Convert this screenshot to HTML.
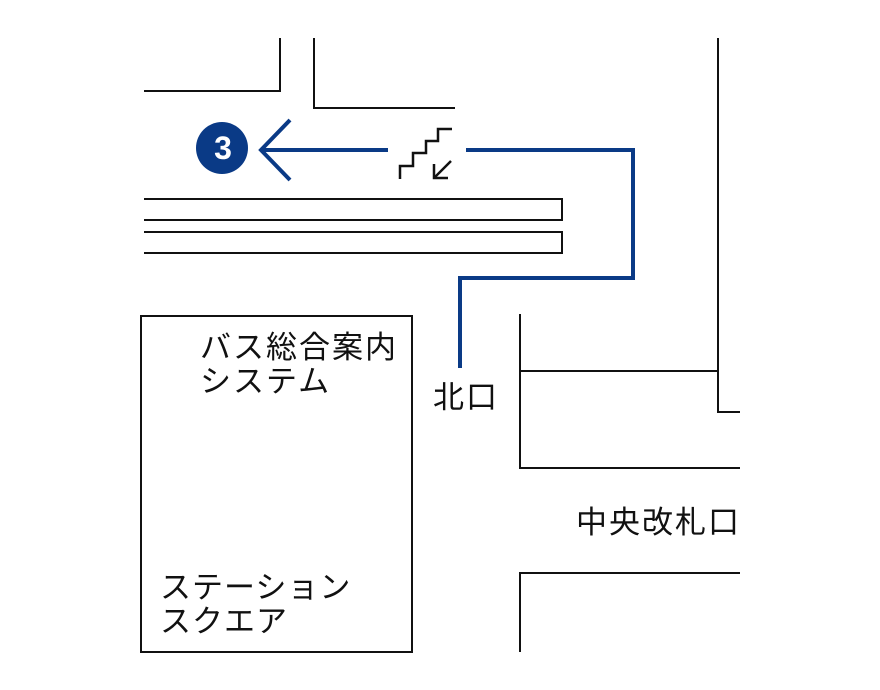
<!DOCTYPE html>
<html><head><meta charset="utf-8"><style>
html,body{margin:0;padding:0;background:#fff;}
svg{display:block;}
text{font-family:"Liberation Sans","Noto Sans CJK JP",sans-serif;fill:#111;}
</style></head><body>
<svg width="880" height="690" viewBox="0 0 880 690" xmlns="http://www.w3.org/2000/svg">
<g fill="none" stroke="#111" stroke-width="2">
<polyline points="280,38 280,91 144,91"/>
<polyline points="314,38 314,108 455,108"/>
<polyline points="144,199 562,199 562,220 144,220"/>
<polyline points="144,232 562,232 562,253 144,253"/>
<rect x="141" y="316" width="271" height="336"/>
<polyline points="718,38 718,412 740,412"/>
<polyline points="520,314 520,468 740,468"/>
<line x1="520" y1="371" x2="718" y2="371"/>
<polyline points="520,652 520,573 740,573"/>
<polyline stroke-width="2.5" points="400,179 400,166 413,166 413,153 426,153 426,141 438,141 438,129 452,129"/>
<line stroke-width="2.5" x1="451" y1="161" x2="434" y2="178"/>
<polyline stroke-width="2.5" points="434,164 434,178 448,178"/>
</g>
<g fill="none" stroke="#0a3a86" stroke-width="4">
<line x1="262" y1="150" x2="388" y2="150"/>
<polyline points="290,120 261,150 290,180"/>
<polyline points="466,150 633,150 633,278 460,278 460,368"/>
</g>
<circle cx="222" cy="148" r="26" fill="#0a3a86"/>
<text x="223" y="159" text-anchor="middle" style="fill:#fff;font-weight:bold;font-size:32px;font-family:'Liberation Sans',sans-serif">3</text>
<g font-size="31">
<text x="200" y="358" letter-spacing="2">バス総合案内</text>
<text x="200" y="392" letter-spacing="2">システム</text>
<text x="433" y="408" letter-spacing="2">北口</text>
<text x="576" y="533" letter-spacing="2">中央改札口</text>
<text x="160" y="598" letter-spacing="1">ステーション</text>
<text x="160" y="632" letter-spacing="1">スクエア</text>
</g>
</svg>
</body></html>
